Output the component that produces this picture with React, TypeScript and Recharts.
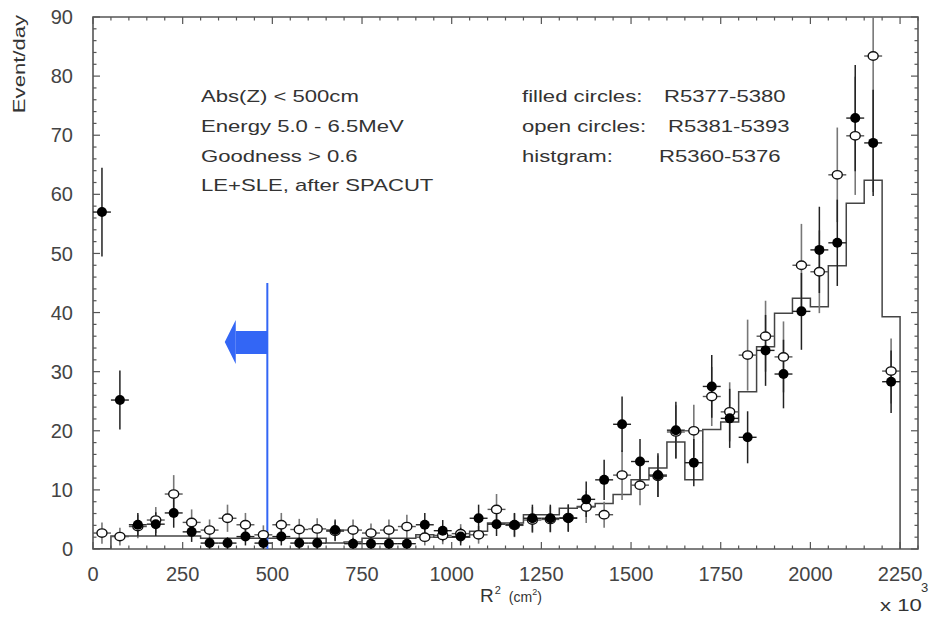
import React from 'react';
import {
  ComposedChart,
  Line,
  Scatter,
  ErrorBar,
  XAxis,
  YAxis,
  ReferenceLine,
  ReferenceArea,
  ReferenceDot,
} from 'recharts';

// ---- data (R^2 in units of 10^3 cm^2, Event/day) ----
const binCenters = [
  25, 75, 125, 175, 225, 275, 325, 375, 425, 475, 525, 575, 625, 675, 725, 775, 825, 875, 925, 975,
  1025, 1075, 1125, 1175, 1225, 1275, 1325, 1375, 1425, 1475, 1525, 1575, 1625, 1675, 1725, 1775,
  1825, 1875, 1925, 1975, 2025, 2075, 2125, 2175, 2225,
];
const binHalfWidth = 25;

// filled circles: R5377-5380
const filledValues = [
  57.0, 25.2, 4.1, 4.2, 6.1, 2.9, 1.0, 1.0, 2.1, 1.0, 2.1, 1.0, 1.0, 3.2, 0.9, 0.9, 0.9, 0.9, 4.1, 3.1,
  2.1, 5.2, 4.2, 4.1, 5.2, 5.2, 5.2, 8.4, 11.7, 21.1, 14.8, 12.5, 20.1, 14.6, 27.5, 22.1, 18.9, 33.6,
  29.6, 40.2, 50.6, 51.8, 72.9, 68.7, 28.3,
];
const filledErrors = [
  7.5, 5.0, 2.0, 2.0, 2.5, 1.7, 1.0, 1.0, 1.5, 1.0, 1.5, 1.0, 1.0, 1.8, 1.0, 1.0, 1.0, 1.0, 2.0, 1.8,
  1.5, 2.3, 2.0, 2.0, 2.3, 2.3, 2.3, 3.0, 3.4, 4.7, 3.8, 3.7, 4.8, 4.0, 5.3, 5.0, 4.4, 6.0, 5.8, 6.5,
  7.3, 7.3, 9.0, 9.0, 5.3,
];

// open circles: R5381-5393
const openValues = [
  2.7, 2.1, 3.8, 4.9, 9.3, 4.5, 3.2, 5.2, 4.1, 2.4, 4.1, 3.3, 3.4, 3.0, 3.2, 2.7, 3.2, 3.8, 2.0, 2.3,
  2.6, 2.4, 6.7, 4.0, 4.9, 5.0, 5.3, 7.1, 5.8, 12.5, 10.8, 12.3, 19.8, 20.0, 25.8, 23.2, 32.8, 36.0,
  32.5, 48.0, 46.9, 63.3, 69.9, 83.4, 30.1,
];
const openErrors = [
  1.8, 1.5, 2.0, 2.2, 3.2, 2.2, 1.8, 2.3, 2.0, 1.6, 2.0, 1.8, 1.8, 1.7, 1.8, 1.6, 1.8, 2.0, 1.4, 1.5,
  1.6, 1.5, 2.6, 2.0, 2.2, 2.2, 2.3, 2.7, 2.2, 4.2, 3.4, 3.5, 4.5, 4.4, 5.0, 5.0, 6.0, 6.0, 6.0, 7.0,
  7.0, 8.0, 10.0, 23.0, 5.5,
];

// histogram: R5360-5376 (bin lower edges, values)
const histEdges = [
  0, 50, 100, 150, 200, 250, 300, 350, 400, 450, 500, 550, 600, 650, 700, 750, 800, 850, 900, 950,
  1000, 1050, 1100, 1150, 1200, 1250, 1300, 1350, 1400, 1450, 1500, 1550, 1600, 1650, 1700, 1750,
  1800, 1850, 1900, 1950, 2000, 2050, 2100, 2150, 2200, 2250,
];
const histValues = [
  0, 2.2, 2.2, 2.2, 2.2, 2.2, 1.8, 1.8, 1.8, 1.8, 1.8, 1.8, 1.8, 1.0, 1.2, 1.8, 1.8, 1.8, 2.4, 2.0,
  2.0, 3.0, 4.4, 4.4, 5.8, 5.8, 6.9, 7.2, 7.7, 9.2, 11.7, 13.7, 18.1, 11.7, 20.2, 21.5, 26.6, 34.2,
  39.9, 42.4, 41.0, 47.9, 58.5, 62.4, 39.3,
];

const xMajorStep = 250;
const xMajorMax = 2250;
const yMajorStep = 10;
const xTicks = Array.from({ length: 47 }, (_, i) => i * 50);
const yTicks = Array.from({ length: 46 }, (_, i) => i * 2);

const X_DOMAIN: [number, number] = [0, 2300];
const Y_DOMAIN: [number, number] = [0, 90];
const CUT_X = 486;

// error bars are clipped at the frame (upper part never drawn above the y-axis maximum)
const clipErr = (y: number, e: number) => [Math.min(e, y - Y_DOMAIN[0]), Math.min(e, Y_DOMAIN[1] - y)];

const filledData = binCenters.map((x, i) => ({
  x,
  y: filledValues[i],
  err: clipErr(filledValues[i], filledErrors[i]),
  xerr: binHalfWidth,
}));
const openData = binCenters.map((x, i) => ({
  x,
  y: openValues[i],
  err: clipErr(openValues[i], openErrors[i]),
  xerr: binHalfWidth,
}));
const histData = histEdges.map((x, i) => ({ x, y: i < histValues.length ? histValues[i] : 0 }));

// layout
const W = 936;
const H = 619;
const M = { top: 17, right: 18, bottom: 30, left: 33 };
const Y_AXIS_W = 60;
const X_AXIS_H = 40;
const PLOT_LEFT = M.left + Y_AXIS_W;
const PLOT_RIGHT = W - M.right;
const PLOT_TOP = M.top;
const PLOT_BOTTOM = H - M.bottom - X_AXIS_H;

const FONT = '"Liberation Sans", Arial, Helvetica, sans-serif';
const FRAME = '#555';
const BLUE = '#3366f5';
const MAJOR_LEN = 7;
const MINOR_LEN = 3.5;

const BottomTick = (p: any) => {
  const v = p.payload.value;
  const major = v % xMajorStep === 0 && v <= xMajorMax;
  const len = major ? MAJOR_LEN : MINOR_LEN;
  const x = p.x;
  return (
    <g>
      <line x1={x} x2={x} y1={PLOT_BOTTOM} y2={PLOT_BOTTOM - len} stroke={FRAME} strokeWidth={1.2} />
      <line x1={x} x2={x} y1={PLOT_TOP} y2={PLOT_TOP + len} stroke={FRAME} strokeWidth={1.2} />
      {major && (
        <text x={x} y={p.y} dy="0.71em" textAnchor="middle" fontSize={20} fill="#444" fontFamily={FONT}>
          {v}
        </text>
      )}
    </g>
  );
};

const LeftTick = (p: any) => {
  const v = p.payload.value;
  const major = v % yMajorStep === 0;
  const len = major ? MAJOR_LEN : MINOR_LEN;
  const y = p.y;
  return (
    <g>
      <line x1={PLOT_LEFT} x2={PLOT_LEFT + len} y1={y} y2={y} stroke={FRAME} strokeWidth={1.2} />
      <line x1={PLOT_RIGHT} x2={PLOT_RIGHT - len} y1={y} y2={y} stroke={FRAME} strokeWidth={1.2} />
      {major && (
        <text x={p.x} y={y} dy="0.355em" textAnchor="end" fontSize={20} fill="#444" fontFamily={FONT}>
          {v}
        </text>
      )}
    </g>
  );
};

const FilledDot = (p: any) => <circle cx={p.cx} cy={p.cy} r={5} fill="#000" />;
const OpenDot = (p: any) => (
  <ellipse cx={p.cx} cy={p.cy} rx={5} ry={4.2} fill="#fff" stroke="#111" strokeWidth={1.4} />
);
const ArrowHead = (p: any) => (
  <polygon
    points={`${p.cx - 11},${p.cy} ${p.cx},${p.cy - 22} ${p.cx},${p.cy + 22}`}
    fill={BLUE}
  />
);

const txt: React.CSSProperties = {
  position: 'absolute',
  fontFamily: FONT,
  fontSize: 17,
  lineHeight: '20px',
  color: '#333',
  whiteSpace: 'nowrap',
  transform: 'scaleX(1.3)',
  transformOrigin: 'left center',
};

export default function App() {
  return (
    <div style={{ position: 'absolute', left: 0, top: 0, width: W, height: H, background: '#fff' }}>
      <ComposedChart width={W} height={H} margin={M}>
        <XAxis
          xAxisId="b"
          dataKey="x"
          type="number"
          domain={X_DOMAIN}
          allowDataOverflow
          ticks={xTicks}
          interval={0}
          tickLine={false}
          axisLine={false}
          tick={BottomTick}
          tickMargin={12}
          height={X_AXIS_H}
        />
        <YAxis
          yAxisId="l"
          type="number"
          domain={Y_DOMAIN}
          allowDataOverflow
          ticks={yTicks}
          interval={0}
          tickLine={false}
          axisLine={false}
          tick={LeftTick}
          tickMargin={14}
          width={Y_AXIS_W}
        />

        {/* frame */}
        <ReferenceArea
          xAxisId="b"
          yAxisId="l"
          x1={X_DOMAIN[0]}
          x2={X_DOMAIN[1]}
          y1={Y_DOMAIN[0]}
          y2={Y_DOMAIN[1]}
          fill="none"
          fillOpacity={0}
          stroke={FRAME}
          strokeWidth={1.6}
          ifOverflow="visible"
        />

        {/* histogram */}
        <Line
          xAxisId="b"
          yAxisId="l"
          data={histData}
          dataKey="y"
          type="stepAfter"
          stroke="#444"
          strokeWidth={1.5}
          dot={false}
          activeDot={false}
          isAnimationActive={false}
        />

        {/* cut marker */}
        <ReferenceLine xAxisId="b" yAxisId="l" segment={[{ x: CUT_X, y: 0 }, { x: CUT_X, y: 45 }]} stroke={BLUE} strokeWidth={2} />
        <ReferenceArea xAxisId="b" yAxisId="l" x1={398} x2={CUT_X} y1={33} y2={36.9} fill={BLUE} fillOpacity={1} stroke="none" />
        <ReferenceDot xAxisId="b" yAxisId="l" x={398} y={35} shape={ArrowHead} />

        {/* open circles */}
        <Scatter xAxisId="b" yAxisId="l" data={openData} dataKey="y" shape={OpenDot} isAnimationActive={false}>
          <ErrorBar dataKey="err" direction="y" width={0} stroke="#777" strokeWidth={1.6} />
          <ErrorBar dataKey="xerr" direction="x" width={0} stroke="#555" strokeWidth={1.4} />
        </Scatter>

        {/* filled circles */}
        <Scatter xAxisId="b" yAxisId="l" data={filledData} dataKey="y" shape={FilledDot} isAnimationActive={false}>
          <ErrorBar dataKey="err" direction="y" width={0} stroke="#222" strokeWidth={1.5} />
          <ErrorBar dataKey="xerr" direction="x" width={0} stroke="#222" strokeWidth={1.4} />
        </Scatter>
      </ComposedChart>

      {/* annotations */}
      <div style={{ ...txt, left: 201, top: 87 }}>Abs(Z) &lt; 500cm</div>
      <div style={{ ...txt, left: 201, top: 117 }}>Energy 5.0 - 6.5MeV</div>
      <div style={{ ...txt, left: 201, top: 147 }}>Goodness &gt; 0.6</div>
      <div style={{ ...txt, left: 201, top: 176 }}>LE+SLE, after SPACUT</div>

      <div style={{ ...txt, left: 522, top: 87 }}>filled circles:</div>
      <div style={{ ...txt, left: 664, top: 87 }}>R5377-5380</div>
      <div style={{ ...txt, left: 522, top: 117 }}>open circles:</div>
      <div style={{ ...txt, left: 668, top: 117 }}>R5381-5393</div>
      <div style={{ ...txt, left: 522, top: 147 }}>histgram:</div>
      <div style={{ ...txt, left: 659, top: 147 }}>R5360-5376</div>

      {/* y-axis title */}
      <div
        style={{
          position: 'absolute',
          left: -40,
          top: 54,
          width: 120,
          height: 20,
          lineHeight: '20px',
          textAlign: 'center',
          fontFamily: FONT,
          fontSize: 17,
          color: '#333',
          whiteSpace: 'nowrap',
          transform: 'rotate(-90deg) scaleX(1.3)',
          transformOrigin: 'center center',
        }}
      >
        Event/day
      </div>

      {/* x-axis title */}
      <div style={{ position: 'absolute', left: 480, top: 586, fontFamily: FONT, color: '#333', whiteSpace: 'nowrap', lineHeight: '20px' }}>
        <span style={{ fontSize: 19 }}>R</span>
        <span style={{ fontSize: 11, position: 'relative', top: -8, marginLeft: 1 }}>2</span>
        <span style={{ fontSize: 14, marginLeft: 8 }}>(cm</span>
        <span style={{ fontSize: 9, position: 'relative', top: -7 }}>2</span>
        <span style={{ fontSize: 14 }}>)</span>
      </div>
      <div style={{ ...txt, left: 880, top: 596 }}>x 10</div>
      <div style={{ ...txt, fontSize: 13, left: 921, top: 578, transform: 'none' }}>3</div>
    </div>
  );
}
